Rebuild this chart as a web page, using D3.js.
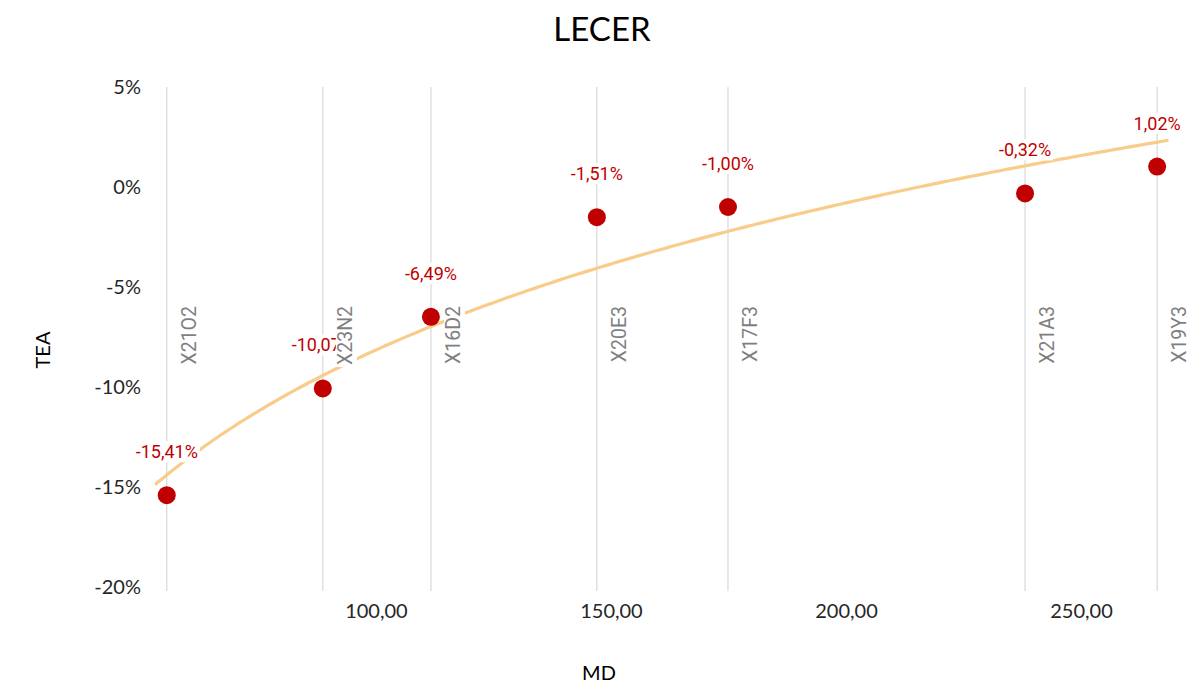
<!DOCTYPE html>
<html>
<head>
<meta charset="utf-8">
<script src="https://cdn.jsdelivr.net/npm/d3@7"></script>
<style>
	body { margin: 0; background: #fff; }
	svg { display: block; }
</style>
</head>
<body>
<svg id="canvas" width="1203" height="684"></svg>
<script>
// data
const names = ["X21O2", "X23N2", "X16D2", "X20E3", "X17F3", "X21A3", "X19Y3"];
const md = [55.5, 88.7, 111.7, 147.0, 174.9, 238.1, 266.2];
const tea = [-0.1541, -0.1007, -0.0649, -0.0151, -0.0100, -0.0032, 0.0102];
const xTicks = [100, 150, 200, 250];
const yTicks = [-0.20, -0.15, -0.10, -0.05, 0, 0.05];

const width = 1203, height = 684;
const svg = d3.select("#canvas");

const locale = d3.formatLocale({decimal: ",", thousands: ".", grouping: [3], currency: ["", "€"], minus: "-"});
const fmtX = locale.format(".2f");
const fmtY = locale.format(".0%");
const fmtLabel = locale.format(".2%");

const x = d3.scaleLinear().domain([53, 270]).range([155, 1175]);
const y = d3.scaleLinear().domain([-0.20, 0.05]).range([587, 87]);

const axisFont = "Lato, 'Open Sans', sans-serif";
const labelFont = "Roboto, sans-serif";

// title
svg.append("text")
	.attr("x", 602).attr("y", 41)
	.attr("text-anchor", "middle")
	.style("font-family", axisFont).style("font-size", "33px")
	.attr("fill", "#000")
	.text("LECER");

// drop lines at each point
svg.selectAll(".drop")
	.data(md)
	.enter().append("line")
	.attr("class", "drop")
	.attr("x1", d => x(d)).attr("x2", d => x(d))
	.attr("y1", y(0.05)).attr("y2", 591)
	.attr("stroke", "#d9d9d9").attr("stroke-width", 1.2);

// y axis (labels only)
const yAxis = svg.append("g")
	.attr("transform", "translate(141,0)")
	.call(d3.axisLeft(y).tickValues(yTicks).tickFormat(fmtY).tickSize(0).tickPadding(0));
yAxis.select(".domain").remove();
yAxis.selectAll("text")
	.style("font-family", axisFont).style("font-size", "20px").attr("fill", "#262626");

// x axis (labels only)
const xAxis = svg.append("g")
	.attr("transform", "translate(0,598)")
	.call(d3.axisBottom(x).tickValues(xTicks).tickFormat(fmtX).tickSize(0).tickPadding(6));
xAxis.select(".domain").remove();
xAxis.selectAll("text")
	.style("font-family", axisFont).style("font-size", "20px").attr("fill", "#262626");

// axis titles
svg.append("text")
	.attr("transform", "translate(50,350) rotate(-90)")
	.attr("text-anchor", "middle")
	.style("font-family", axisFont).style("font-size", "20px")
	.text("TEA");
svg.append("text")
	.attr("x", 599).attr("y", 680)
	.attr("text-anchor", "middle")
	.style("font-family", axisFont).style("font-size", "20px")
	.text("MD");

// logarithmic trendline, least squares on the points
const lx = md.map(Math.log);
const mx = d3.mean(lx), my = d3.mean(tea);
const b = d3.sum(lx, (v, i) => (v - mx) * (tea[i] - my)) / d3.sum(lx, v => (v - mx) * (v - mx));
const a = my - b * mx;
const trendX = d3.range(53, 268.6, 1).concat([268.6]);
svg.append("path")
	.datum(trendX)
	.attr("fill", "none")
	.attr("stroke", "#f8cd8c")
	.attr("stroke-width", 3.2)
	.attr("d", d3.line().x(d => x(d)).y(d => y(a + b * Math.log(d))));

// points
const pts = md.map((v, i) => ({x: v, y: tea[i], name: names[i]}));
svg.selectAll(".dot")
	.data(pts)
	.enter().append("circle")
	.attr("class", "dot")
	.attr("cx", d => x(d.x)).attr("cy", d => y(d.y))
	.attr("r", 9)
	.attr("fill", "#c00000");

// value labels with white boxes
const vl = svg.selectAll(".vlabel")
	.data(pts)
	.enter().append("g")
	.attr("class", "vlabel")
	.attr("transform", d => "translate(" + x(d.x) + "," + (y(d.y) - 37) + ")");
vl.append("text")
	.attr("text-anchor", "middle")
	.style("font-family", labelFont).style("font-size", "18px")
	.attr("fill", "#c00000")
	.text(d => fmtLabel(d.y));
vl.each(function() {
	const g = d3.select(this);
	const bb = g.select("text").node().getBBox();
	g.insert("rect", "text")
		.attr("x", bb.x - 2).attr("y", bb.y)
		.attr("width", bb.width + 4).attr("height", bb.height)
		.attr("fill", "#fff");
});

// category labels along the drop lines
const cl = svg.selectAll(".clabel")
	.data(pts)
	.enter().append("g")
	.attr("class", "clabel")
	.attr("transform", d => "translate(" + (x(d.x) + 29) + ",306) rotate(-90)");
cl.append("text")
	.attr("text-anchor", "end")
	.style("font-family", labelFont).style("font-size", "19.5px")
	.attr("fill", "#7f7f7f")
	.text(d => d.name);
cl.each(function() {
	const g = d3.select(this);
	const bb = g.select("text").node().getBBox();
	g.insert("rect", "text")
		.attr("x", bb.x - 2).attr("y", bb.y + 2)
		.attr("width", bb.width + 6).attr("height", bb.height - 2)
		.attr("fill", "#fff");
});
</script>
</body>
</html>
